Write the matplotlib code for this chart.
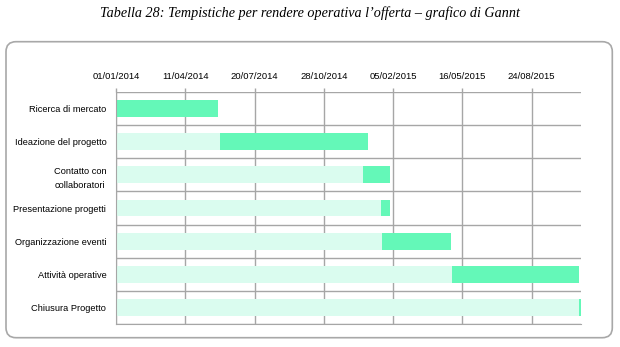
import numpy as np
import matplotlib
matplotlib.use('Agg')
import matplotlib.pyplot as plt
import matplotlib.dates as mdates
from matplotlib.patches import FancyBboxPatch

# Gantt phases: start date and duration in days
tasks = ['Ricerca di mercato', 'Ideazione del progetto', 'Contatto con\ncollaboratori',
         'Presentazione progetti', 'Organizzazione eventi', 'Attività operative',
         'Chiusura Progetto']
start_dates = ['2014-01-01', '2014-05-31', '2014-12-23', '2015-01-19',
               '2015-01-20', '2015-05-01', '2015-10-31']
durations = [147, 214, 40, 12, 100, 183, 3]

axis_start = '2014-01-01'
tick_step_days = 100

LIGHT = '#dafcef'
DARK = '#64f8b8'
GRID = '#a6a6a6'

plt.rcParams['font.family'] = ['Liberation Sans', 'DejaVu Sans']

fig = plt.figure(figsize=(6.2, 3.47), dpi=100)
ax = fig.add_axes([116 / 620, (347 - 324.3) / 347, (580.7 - 116) / 620, (324.3 - 91.7) / 347])

x0 = mdates.datestr2num(axis_start)
starts = mdates.datestr2num(start_dates)
durs = np.array(durations, dtype=float)
y = np.arange(len(tasks))

# light part runs from the axis origin to the task start, dark part is the task itself
ax.barh(y, starts - x0, left=x0, height=0.5, color=LIGHT, zorder=2)
ax.barh(y, durs, left=starts, height=0.5, color=DARK, zorder=2)

ax.set_ylim(len(tasks) - 0.5, -0.5)
ax.set_xlim(x0, (starts + durs).max())

ax.set_yticks(y)
ax.set_yticklabels(tasks, fontsize=6.7, multialignment='center', linespacing=1.7)
ax.set_yticks(np.arange(len(tasks) + 1) - 0.5, minor=True)
ax.tick_params(axis='y', which='both', length=0, pad=7)

ticks = np.arange(x0, (starts + durs).max(), tick_step_days)
ax.set_xticks(ticks)
ax.xaxis.set_major_formatter(mdates.DateFormatter('%d/%m/%Y'))
ax.xaxis.tick_top()
ax.tick_params(axis='x', which='major', length=3, width=1, color=GRID,
               labelsize=6.8, pad=5)

ax.grid(True, which='major', axis='x', color=GRID, lw=1, zorder=1)
ax.grid(True, which='minor', axis='y', color=GRID, lw=1, zorder=1)
ax.set_axisbelow(True)
for side in ['top', 'right']:
    ax.spines[side].set_visible(False)
ax.spines['left'].set_color(GRID)
ax.spines['bottom'].set_color(GRID)

# rounded frame around the chart area
frame = FancyBboxPatch((0.06, 0.093), 6.063, 2.96,
                       boxstyle='round,pad=0,rounding_size=0.1',
                       transform=fig.dpi_scale_trans, facecolor='none',
                       edgecolor='#a8a8a8', lw=1.2)
fig.patches.append(frame)

fig.text(0.5, 1 - 13 / 347, 'Tabella 28: Tempistiche per rendere operativa l’offerta – grafico di Gannt',
         ha='center', va='center', fontsize=10.2, style='italic', family='Liberation Serif')

fig.savefig('out.png', dpi=100)
